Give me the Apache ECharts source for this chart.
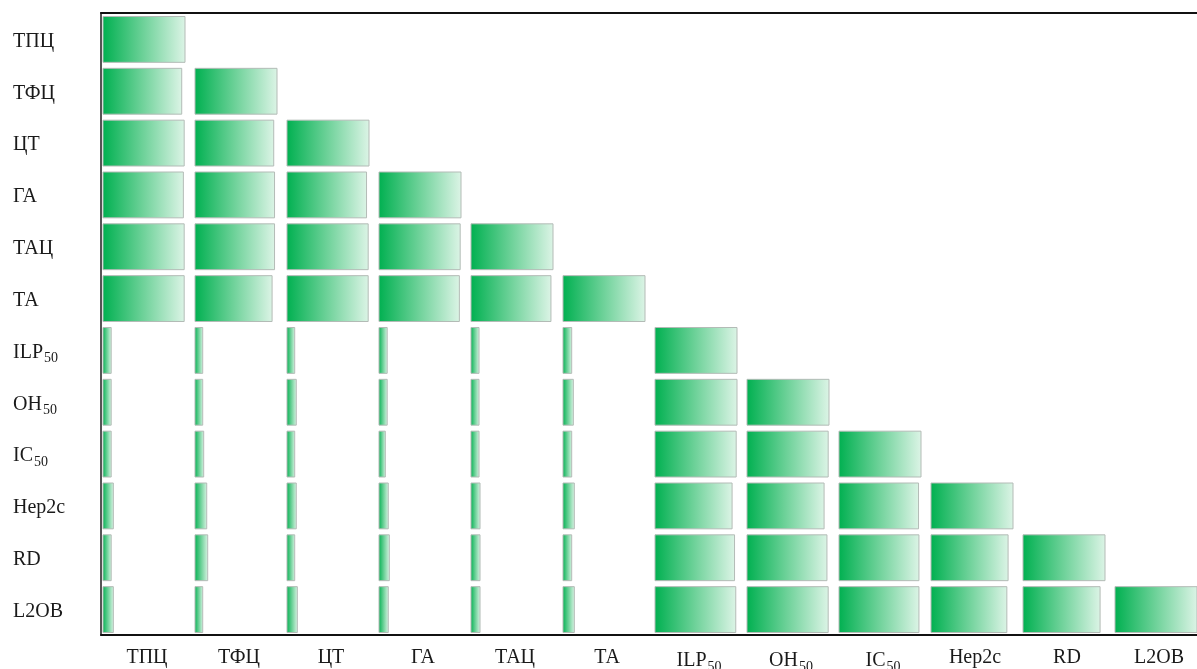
<!DOCTYPE html>
<html>
<head>
<meta charset="utf-8">
<style>
  html, body { margin: 0; padding: 0; background: #ffffff; overflow: hidden; }
  #chart { width: 1197px; height: 669px; }
</style>
<script src="https://cdn.jsdelivr.net/npm/echarts@6/dist/echarts.min.js"></script>
</head>
<body>
<div id="chart"></div>
<script>
// Indicator names (rows top-to-bottom, columns left-to-right)
const categories = ['ТПЦ', 'ТФЦ', 'ЦТ', 'ГА', 'ТАЦ', 'ТА', 'ILP50', 'OH50', 'IC50', 'Hep2c', 'RD', 'L2OB'];

// Lower-triangular matrix of pairwise values, one row per indicator
const rowTPC   = [1.00];
const rowTFC   = [0.96, 1.00];
const rowCT    = [0.99, 0.96, 1.00];
const rowGA    = [0.98, 0.97, 0.97, 1.00];
const rowTAC   = [0.99, 0.97, 0.99, 0.99, 1.00];
const rowTA    = [0.99, 0.94, 0.99, 0.98, 0.975, 1.00];
const rowILP50 = [0.10, 0.094, 0.094, 0.10, 0.098, 0.106, 1.00];
const rowOH50  = [0.10, 0.094, 0.113, 0.10, 0.098, 0.126, 1.00, 1.00];
const rowIC50  = [0.10, 0.106, 0.094, 0.077, 0.098, 0.106, 0.99, 0.99, 1.00];
const rowHep2c = [0.126, 0.143, 0.113, 0.113, 0.11, 0.138, 0.94, 0.94, 0.97, 1.00];
const rowRD    = [0.10, 0.155, 0.094, 0.126, 0.11, 0.106, 0.97, 0.975, 0.975, 0.94, 1.00];
const rowL2OB  = [0.126, 0.094, 0.126, 0.113, 0.11, 0.138, 0.985, 0.99, 0.975, 0.925, 0.94, 1.00];

const rows = [rowTPC, rowTFC, rowCT, rowGA, rowTAC, rowTA, rowILP50, rowOH50, rowIC50, rowHep2c, rowRD, rowL2OB];

// Flatten into [column, row, value] triples
const cells = [];
rows.forEach(function (r, ri) {
  r.forEach(function (v, ci) { cells.push([ci, ri, v]); });
});

// Names ending in "50" get the number set as a subscript
function labelText(name) {
  const m = /^(ILP|OH|IC)50$/.exec(name);
  return m ? '{a|' + m[1] + '}{s|50}' : '{a|' + name + '}';
}

const labelFont = 'Liberation Serif';
const richStyles = {
  a: { fontFamily: labelFont, fontSize: 20, color: '#1a1a1a' },
  s: { fontFamily: labelFont, fontSize: 14, color: '#1a1a1a', padding: [12, 0, 0, 1] }
};

const chart = echarts.init(document.getElementById('chart'));

chart.setOption({
  animation: false,
  backgroundColor: '#ffffff',
  grid: {
    left: 101, top: 13, width: 1104, height: 622,
    containLabel: false,
    outerBoundsMode: 'none'
  },
  xAxis: [
    {
      type: 'category',
      data: categories,
      position: 'bottom',
      axisLine: { show: true, lineStyle: { color: '#111111', width: 2 } },
      axisTick: { show: false },
      splitLine: { show: false },
      axisLabel: {
        interval: 0,
        margin: 13,
        formatter: labelText,
        rich: richStyles
      }
    },
    {
      type: 'category',
      data: categories,
      position: 'top',
      axisLine: { show: true, lineStyle: { color: '#111111', width: 2 } },
      axisTick: { show: false },
      axisLabel: { show: false },
      splitLine: { show: false }
    }
  ],
  yAxis: {
    type: 'category',
    data: categories,
    inverse: true,
    axisLine: { show: true, lineStyle: { color: '#555555', width: 2 } },
    axisTick: { show: false },
    splitLine: { show: false },
    axisLabel: {
      interval: 0,
      align: 'left',
      margin: 88,
      padding: [5, 0, 0, 0],
      formatter: labelText,
      rich: richStyles
    }
  },
  series: [{
    type: 'custom',
    xAxisIndex: 0,
    data: cells,
    renderItem: function (params, api) {
      const center = api.coord([api.value(0), api.value(1)]);
      const cellW = api.size([1, 0])[0];
      const cellH = api.size([0, 1])[1];
      const fullW = cellW - 10;
      const w = api.value(2) * fullW;
      const h = cellH - 6;
      const x = center[0] - cellW / 2 + 2;
      const y = center[1] - h / 2 + 0.5;
      return {
        type: 'rect',
        shape: { x: x, y: y, width: w, height: h },
        style: {
          fill: new echarts.graphic.LinearGradient(0, 0, 1, 0, [
            { offset: 0, color: '#00b050' },
            { offset: 0.5, color: '#6fd29a' },
            { offset: 1, color: '#dcf4e6' }
          ]),
          stroke: '#b3bbb6',
          lineWidth: 1
        }
      };
    }
  }]
});
</script>
</body>
</html>
